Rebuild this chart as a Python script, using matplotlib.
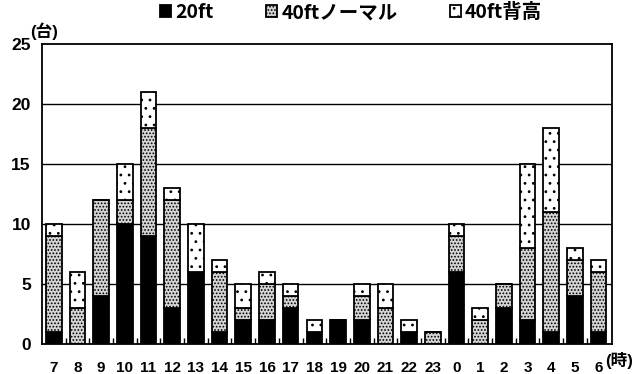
import matplotlib
matplotlib.use("Agg")
import matplotlib.pyplot as plt
import numpy as np

plt.rcParams['font.family'] = ['Liberation Sans', 'Noto Sans CJK JP', 'DejaVu Sans']
plt.rcParams['font.weight'] = 'bold'
plt.rcParams['hatch.linewidth'] = 0.8

# hours of the day, from 7 o'clock round to 6
hours = ["7", "8", "9", "10", "11", "12", "13", "14", "15", "16", "17", "18",
         "19", "20", "21", "22", "23", "0", "1", "2", "3", "4", "5", "6"]
ft20 = [1, 0, 4, 10, 9, 3, 6, 1, 2, 2, 3, 1, 2, 2, 0, 1, 0, 6, 0, 3, 2, 1, 4, 1]
ft40_normal = [8, 3, 8, 2, 9, 9, 0, 5, 1, 3, 1, 0, 0, 2, 3, 0, 1, 3, 2, 2, 6, 10, 3, 5]
ft40_high = [1, 3, 0, 3, 3, 1, 4, 1, 2, 1, 1, 1, 0, 1, 2, 1, 0, 1, 1, 0, 7, 7, 1, 1]

labels = ["20ft", "40ftノーマル", "40ft背高"]

fig = plt.figure(figsize=(6.4, 3.74), dpi=100)
ax = fig.add_axes([0.0656, 0.0802, 0.890, 0.802])

x = np.arange(len(hours))
a = np.array(ft20)
b = np.array(ft40_normal)
c = np.array(ft40_high)
w = 0.66

# grid lines behind bars
for yv in [5, 10, 15, 20]:
    ax.axhline(yv, color='black', lw=1.0, zorder=0)

b1 = ax.bar(x, a, w, color='black', edgecolor='black', lw=1.3, zorder=2, label=labels[0])
b2 = ax.bar(x, b, w, bottom=a, color='#d4d4d4', edgecolor='black', hatch='.....',
            lw=1.3, zorder=2, label=labels[1])
b3 = ax.bar(x, c, w, bottom=a + b, color='white', edgecolor='black', hatch='..',
            lw=1.3, zorder=2, label=labels[2])

ax.set_xlim(-0.5, 23.55)
ax.set_ylim(0, 25)
ax.set_yticks(range(0, 26, 5))
ax.set_xticks(x)
ax.set_xticklabels(hours)
ax.set_xticks(np.arange(0.5, 23, 1), minor=True)
ax.tick_params(axis='x', which='major', length=0, labelsize=11, pad=12)
ax.tick_params(axis='x', which='minor', direction='in', length=4, width=1)
ax.tick_params(axis='y', length=0, labelsize=12.5, pad=8)
for s in ax.spines.values():
    s.set_linewidth(1.3)

ax.text(-0.02, 1.015, "(台)", transform=ax.transAxes, fontsize=12, ha='left', va='bottom')
fig.text(0.945, 0.036, "(時)", fontsize=12, ha='left', va='center')

leg = ax.legend(handles=[b1, b2, b3], ncol=3, loc='lower center',
                bbox_to_anchor=(0.543, 1.04), frameon=False,
                prop={'family': ['Noto Sans CJK JP'], 'weight': 'bold', 'size': 14},
                handlelength=0.57, handleheight=0.57, handletextpad=0.2,
                columnspacing=2.7, borderpad=0)

fig.savefig("out.png", dpi=100)
